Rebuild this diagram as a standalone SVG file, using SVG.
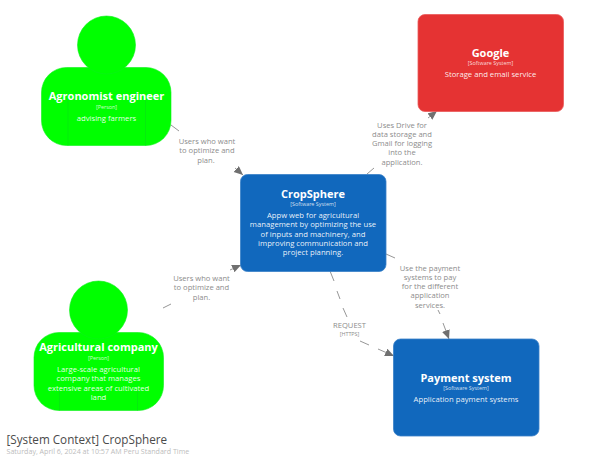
<svg xmlns="http://www.w3.org/2000/svg" width="602" height="460" viewBox="0 0 602 460">
<style>
text{font-family:"Open Sans","DejaVu Sans",sans-serif;text-anchor:middle}
.name{font-size:11px;font-weight:700;fill:#fff}
.tag{font-size:5.4px;fill:#fff;fill-opacity:.8}
.desc{font-size:7.7px;fill:#fff;fill-opacity:.92}
.lab{font-size:7.6px;fill:#8c8c8c}
.ltag{font-size:5.4px;fill:#8c8c8c}
.person{fill:#00ff00;stroke:#0bf01b;stroke-width:.6}
.inner{stroke:#0ad81a;stroke-width:.5;fill:none}
.box{stroke-width:.8}
.conn{stroke:#8a8a8a;stroke-width:.9;fill:none}
.title{font-size:11.7px;fill:#4a4a4a;text-anchor:start}
.sub{font-size:7.1px;fill:#bdbdbd;text-anchor:start}
</style>
<defs>
<marker id="arrow" markerUnits="userSpaceOnUse" markerWidth="10" markerHeight="9" refX="9" refY="4" orient="auto"><path d="M0 0L9 4L0 8z" fill="#707070"/></marker>
</defs>
<rect width="602" height="460" fill="#fff"/>
<g id="connectors">
<path class="conn" d="M171 125L179 131"/>
<path class="conn" d="M235 168L243 175" marker-end="url(#arrow)"/>
<path class="conn" d="M163 308L171 304"/>
<path class="conn" d="M230 270L241 265" marker-end="url(#arrow)"/>
<path class="conn" d="M367 174L374 168"/>
<path class="conn" d="M428 118L437 111" marker-end="url(#arrow)"/>
<path class="conn" d="M386 254L395 258"/>
<path class="conn" d="M438 310L440 314"/>
<path class="conn" d="M443 323L449 339" marker-end="url(#arrow)"/>
<path class="conn" d="M330 271L334 281M337 291L340 299M343 308L347 317M360 341L369 345"/>
<path class="conn" d="M378 349L394 356" marker-end="url(#arrow)"/>
<text class="lab" x="207" y="144">Users who want</text>
<text class="lab" x="207" y="153.300">to optimize and</text>
<text class="lab" x="206" y="162.600">plan.</text>
<text class="lab" x="201.500" y="281">Users who want</text>
<text class="lab" x="201.500" y="290.300">to optimize and</text>
<text class="lab" x="201.500" y="299.600">plan.</text>
<text class="lab" x="402" y="127.500">Uses Drive for</text>
<text class="lab" x="402" y="136.800">data storage and</text>
<text class="lab" x="402" y="146.100">Gmail for logging</text>
<text class="lab" x="402" y="155.400">into the</text>
<text class="lab" x="402" y="164.700">application.</text>
<text class="lab" x="430" y="270.500">Use the payment</text>
<text class="lab" x="430" y="279.800">systems to pay</text>
<text class="lab" x="430" y="289.100">for the different</text>
<text class="lab" x="430" y="298.400">application</text>
<text class="lab" x="430" y="307.700">services.</text>
<text class="lab" x="349.500" y="328">REQUEST</text>
<text class="ltag" x="349.500" y="336">[HTTPS]</text>
</g>
<g id="agronomist-engineer">
<rect class="person" x="41.500" y="67.500" width="129.500" height="78" rx="25"/>
<circle class="person" cx="106.500" cy="45" r="29"/>
<path class="inner" d="M68 100V145.500M145.500 100V145.500"/>
<text class="name" x="106.500" y="100">Agronomist engineer</text>
<text class="tag" x="106.500" y="109">[Person]</text>
<text class="desc" x="106.500" y="121">advising farmers</text>
</g>
<g id="agricultural-company">
<rect class="person" x="34" y="332.500" width="129.500" height="78" rx="25"/>
<circle class="person" cx="98.500" cy="310" r="29"/>
<path class="inner" d="M59.500 390V410.500M137.500 390V410.500"/>
<text class="name" x="98.500" y="351">Agricultural company</text>
<text class="tag" x="98.500" y="360">[Person]</text>
<text class="desc" x="98.500" y="372">Large-scale agricultural</text>
<text class="desc" x="98.500" y="381.300">company that manages</text>
<text class="desc" x="98.500" y="390.500">extensive areas of cultivated</text>
<text class="desc" x="98.500" y="399.800">land</text>
</g>
<g id="cropsphere">
<rect class="box" x="240.500" y="174.500" width="145.500" height="97" rx="7" fill="#1168bd" stroke="#3a80c8"/>
<text class="name" x="313" y="198">CropSphere</text>
<text class="tag" x="313" y="206">[Software System]</text>
<text class="desc" x="313" y="218">Appw web for agricultural</text>
<text class="desc" x="313" y="227.300">management by optimizing the use</text>
<text class="desc" x="313" y="236.600">of inputs and machinery, and</text>
<text class="desc" x="313" y="245.900">improving communication and</text>
<text class="desc" x="313" y="255.200">project planning.</text>
</g>
<g id="google">
<rect class="box" x="418" y="14.500" width="145.500" height="97" rx="7" fill="#e53333" stroke="#ea5a5a"/>
<text class="name" x="490.500" y="57">Google</text>
<text class="tag" x="490.500" y="65">[Software System]</text>
<text class="desc" x="490.500" y="77">Storage and email service</text>
</g>
<g id="payment-system">
<rect class="box" x="393.500" y="339" width="145.500" height="97" rx="7" fill="#1168bd" stroke="#3a80c8"/>
<text class="name" x="466" y="381.500">Payment system</text>
<text class="tag" x="466" y="390">[Software System]</text>
<text class="desc" x="466" y="401.500">Application payment systems</text>
</g>
<text class="title" x="6.500" y="444">[System Context] CropSphere</text>
<text class="sub" x="6.500" y="454">Saturday, April 6, 2024 at 10:57 AM Peru Standard Time</text>
</svg>
